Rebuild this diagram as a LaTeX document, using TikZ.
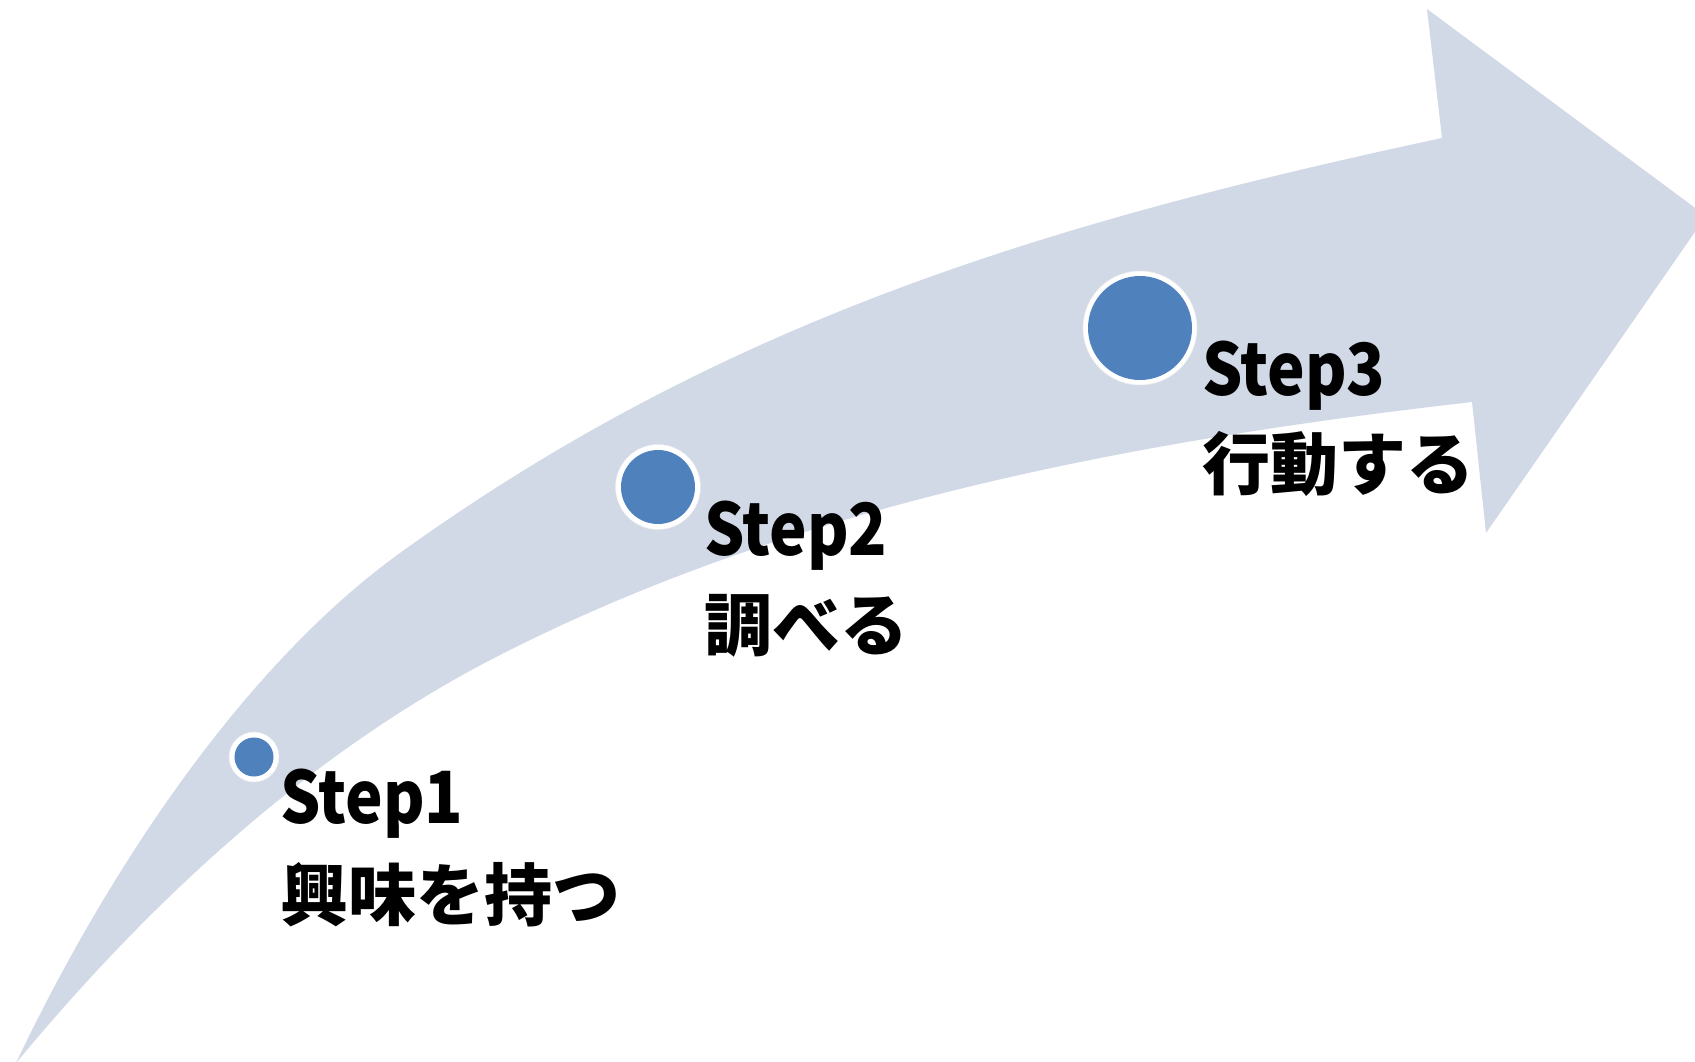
\documentclass[tikz,border=0pt]{standalone}
\usepackage{fontspec}
\newfontfamily\jp{Noto Sans CJK JP}
\newfontfamily\jpnarrow[FakeStretch=0.88]{Noto Sans CJK JP}
\definecolor{arrowfill}{HTML}{D1D9E7}
\definecolor{dotblue}{HTML}{4F81BD}
\tikzset{
  ring/.style={circle, fill=white, draw=black!8, line width=0.5pt, inner sep=0pt},
  dot/.style={circle, fill=dotblue, inner sep=0pt},
  steplbl/.style={anchor=base west, inner sep=0pt, font=\jpnarrow\bfseries\fontsize{72}{80}\selectfont},
  jplbl/.style={anchor=base west, inner sep=0pt, font=\jp\bfseries\fontsize{68}{80}\selectfont}
}
\begin{document}
\begin{tikzpicture}[x=1pt,y=-1pt]
\useasboundingbox (0,0) rectangle (1695,1061);
\fill[white] (0,0) rectangle (1695,1061);
\clip (0,0) rectangle (1695,1061);
% curved block arrow
\fill[arrowfill]
  (16,1063) .. controls (103,880) and (238,670) .. (400,553)
  .. controls (725,319) and (1051,222) .. (1442,138)
  -- (1427,9) -- (1706,216) -- (1486,533) -- (1472,402)
  .. controls (1139,440) and (798,503) .. (500,655)
  .. controls (313,750) and (151,900) .. (16,1063)
  -- cycle;
% Step 1
\node[ring, minimum size=50pt] (s1r) at (254,757) {};
\node[dot, minimum size=39pt] (s1c) at (s1r.center) {};
\node[steplbl] (s1t) at (280,823) {Step1};
\node[jplbl] (s1j) at (280,920) {興味を持つ};
% Step 2
\node[ring, minimum size=85pt] (s2r) at (658,487) {};
\node[dot, minimum size=74pt] (s2c) at (s2r.center) {};
\node[steplbl] (s2t) at (704,555) {Step2};
\node[jplbl] (s2j) at (704,650) {調べる};
% Step 3
\node[ring, minimum size=114pt] (s3r) at (1140,328) {};
\node[dot, minimum size=104pt] (s3c) at (s3r.center) {};
\node[steplbl] (s3t) at (1202,395) {Step3};
\node[jplbl] (s3j) at (1202,489) {行動する};
\end{tikzpicture}
\end{document}
